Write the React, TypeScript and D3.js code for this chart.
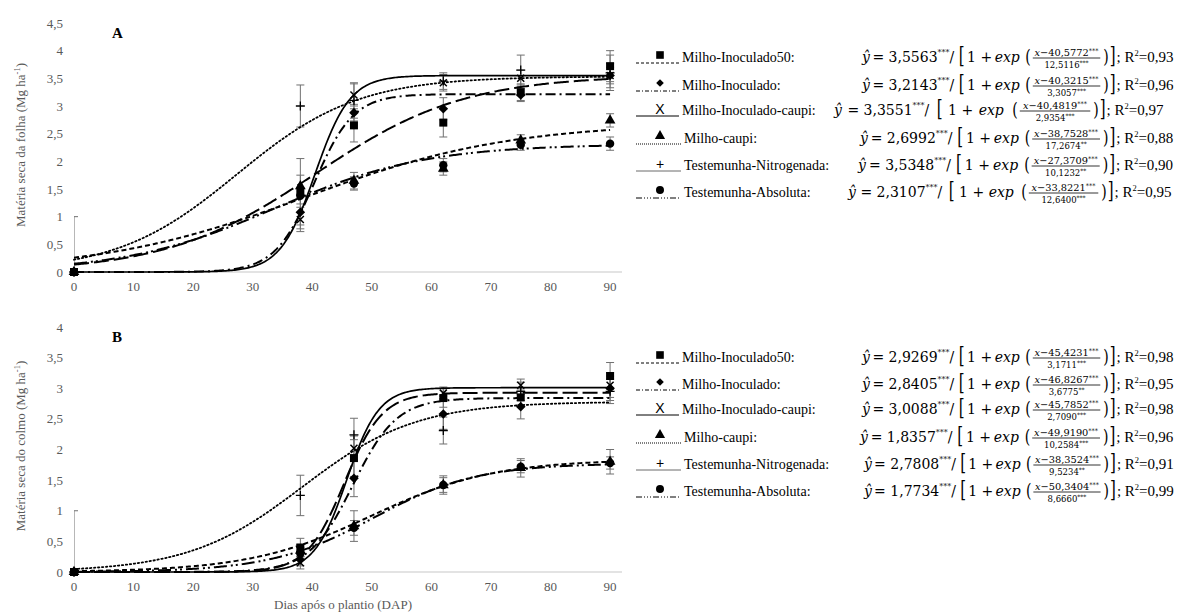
import React, { useEffect, useRef } from "react";
import * as d3 from "d3";

// ---------- DATA ----------
const days = [0, 38, 47, 62, 75, 90];
const seriesNames = [
  "Milho-Inoculado50",
  "Milho-Inoculado",
  "Milho-Inoculado-caupi",
  "Milho-caupi",
  "Testemunha-Nitrogenada",
  "Testemunha-Absoluta",
];
const markerTypes = ["square", "diamond", "x", "triangle", "plus", "circle"];

// Panel A – Matéria seca da folha (observed means and error half-widths)
const folhaMeans = [
  [0, 1.45, 2.65, 2.7, 3.25, 3.72],
  [0, 1.08, 2.88, 2.95, 3.2, 3.55],
  [0, 0.95, 3.2, 3.42, 3.5, 3.55],
  [0, 1.55, 1.65, 1.87, 2.38, 2.74],
  [0, 3.0, 3.1, 3.45, 3.65, 3.6],
  [0, 1.38, 1.6, 1.93, 2.3, 2.32],
];
const folhaErrors = [
  [0, 0.6, 0.3, 0.26, 0.15, 0.28],
  [0, 0.3, 0.15, 0.2, 0.12, 0.15],
  [0, 0.22, 0.2, 0.15, 0.15, 0.22],
  [0, 0.2, 0.15, 0.12, 0.1, 0.12],
  [1.0, 0.38, 0.32, 0.15, 0.27, 0.32],
  [0, 0.15, 0.12, 0.12, 0.1, 0.12],
];
// drawn logistic curves: [asymptote, inflection, scale]
const folhaCurves = [
  [3.5563, 40.5772, 12.5116],
  [3.2143, 40.3215, 3.3057],
  [3.55, 40.4819, 2.9354],
  [2.6992, 38.7528, 17.2674],
  [3.5348, 27.3709, 10.1232],
  [2.3107, 33.8221, 12.64],
];
const folhaEqA = ["3,5563", "3,2143", "3,3551", "2,6992", "3,5348", "2,3107"];
const folhaEqAStars = ["***", "***", "***", "***", "***", "***"];
const folhaEqNum = ["40,5772", "40,3215", "40,4819", "38,7528", "27,3709", "33,8221"];
const folhaEqDen = ["12,5116***", "3,3057***", "2,9354***", "17,2674**", "10,1232**", "12,6400***"];
const folhaR2 = ["0,93", "0,96", "0,97", "0,88", "0,90", "0,95"];

// Panel B – Matéria seca do colmo
const colmoMeans = [
  [0, 0.4, 1.86, 2.84, 2.85, 3.2],
  [0, 0.2, 1.53, 2.58, 2.7, 3.0],
  [0, 0.15, 2.02, 2.92, 3.05, 3.05],
  [0, 0.35, 0.75, 1.42, 1.7, 1.8],
  [0, 1.25, 2.24, 2.31, 2.95, 2.95],
  [0, 0.3, 0.72, 1.42, 1.72, 1.78],
];
const colmoErrors = [
  [0, 0.15, 0.3, 0.15, 0.12, 0.22],
  [0, 0.1, 0.3, 0.25, 0.2, 0.2],
  [0, 0.1, 0.2, 0.1, 0.1, 0.2],
  [0, 0.1, 0.25, 0.15, 0.15, 0.2],
  [1.0, 0.33, 0.27, 0.22, 0.15, 0.2],
  [0, 0.1, 0.12, 0.12, 0.1, 0.1],
];
const colmoCurves = [
  [2.9269, 45.4231, 3.1711],
  [2.8405, 46.8267, 3.6775],
  [3.0088, 45.7852, 2.709],
  [1.8357, 49.919, 10.2584],
  [2.7808, 38.3524, 9.5234],
  [1.7734, 50.3404, 8.666],
];
const colmoEqA = ["2,9269", "2,8405", "3,0088", "1,8357", "2,7808", "1,7734"];
const colmoEqAStars = ["***", " ***", "***", "***", "***", "***"];
const colmoEqNum = ["45,4231", "46,8267", "45,7852", "49,9190", "38,3524", "50,3404"];
const colmoEqDen = ["3,1711***", "3,6775**", "2,7090***", "10,2584***", "9,5234**", "8,6660***"];
const colmoR2 = ["0,98", "0,95", "0,98", "0,96", "0,91", "0,99"];

const xTicks = [0, 10, 20, 30, 40, 50, 60, 70, 80, 90];
const folhaYTicks = [0, 0.5, 1, 1.5, 2, 2.5, 3, 3.5, 4, 4.5];
const colmoYTicks = [0, 0.5, 1, 1.5, 2, 2.5, 3, 3.5, 4];

// ---------- STYLES ----------
const curveDash = ["15,5", "10,4,2,4", null, "5,3", "1.4,2.6", "13,4,2,3,2,4"];
const curveWidth = [2, 2, 1.7, 2, 1.8, 2];
const legendDash = ["3,2", "4,2,1,2", null, "1,1", null, "6,2,1,2,1,2,1,2"];
const SERIF = "'Liberation Serif', 'Times New Roman', serif";
const MATH = "'DejaVu Serif', serif";
const GRAY = "#595959";

function drawMarker(g: any, type: string, x: number, y: number, s = 1) {
  if (type === "square") {
    g.append("rect").attr("x", x - 4 * s).attr("y", y - 4 * s).attr("width", 8 * s).attr("height", 8 * s).attr("fill", "#000");
  } else if (type === "diamond") {
    const r = 4.8 * s;
    g.append("path").attr("d", `M${x},${y - r}L${x + r},${y}L${x},${y + r}L${x - r},${y}Z`).attr("fill", "#000");
  } else if (type === "triangle") {
    g.append("path").attr("d", d3.symbol(d3.symbolTriangle, 50 * s * s)()).attr("transform", `translate(${x},${y})`).attr("fill", "#000");
  } else if (type === "circle") {
    g.append("circle").attr("cx", x).attr("cy", y).attr("r", 4.2 * s).attr("fill", "#000");
  } else if (type === "x") {
    const r = 3.5 * s;
    g.append("path").attr("d", `M${x - r},${y - r}L${x + r},${y + r}M${x - r},${y + r}L${x + r},${y - r}`).attr("stroke", "#000").attr("stroke-width", 1.5);
  } else if (type === "plus") {
    const r = 4.5 * s;
    g.append("path").attr("d", `M${x - r},${y}L${x + r},${y}M${x},${y - r}L${x},${y + r}`).attr("stroke", "#000").attr("stroke-width", 1.3);
  }
}

function drawPanel(svg: any, cfg: any) {
  const { id, yMax, yTop, yBottom, yTicks, means, errors, curves, label, yTitle, titleCenter } = cfg;
  const x = d3.scaleLinear().domain([0, 92]).range([74, 622]);
  const y = d3.scaleLinear().domain([0, yMax]).range([yBottom, yTop]);
  const g = svg.append("g");

  svg.append("defs").append("clipPath").attr("id", `clip-${id}`)
    .append("rect").attr("x", x(0)).attr("y", y(yMax) - 10).attr("width", x(92) - x(0) + 10).attr("height", y(0) - y(yMax) + 10);

  g.selectAll(".yt").data(yTicks).enter().append("text")
    .attr("x", 63).attr("y", (d: number) => y(d) + 4.5)
    .attr("text-anchor", "end").attr("font-family", SERIF).attr("font-size", 13).attr("fill", GRAY)
    .text((d: number) => String(d).replace(".", ","));
  g.selectAll(".xt").data(xTicks).enter().append("text")
    .attr("x", (d: number) => x(d)).attr("y", y(0) + 19)
    .attr("text-anchor", "middle").attr("font-family", SERIF).attr("font-size", 13).attr("fill", GRAY)
    .text((d: number) => String(d));
  g.append("line").attr("x1", 71).attr("x2", 622).attr("y1", y(0)).attr("y2", y(0)).attr("stroke", "#c8c8c8").attr("stroke-width", 1.2);

  const yt = g.append("text").attr("transform", `translate(25,${titleCenter}) rotate(-90)`)
    .attr("text-anchor", "middle").attr("font-family", SERIF).attr("font-size", 13).attr("fill", GRAY);
  yt.append("tspan").text(yTitle + " (Mg ha");
  yt.append("tspan").attr("dy", -5).attr("font-size", 8.5).text("-1");
  yt.append("tspan").attr("dy", 5).text(")");

  g.append("text").attr("x", 112).attr("y", y(yMax) + 15).attr("font-family", SERIF).attr("font-weight", "bold").attr("font-size", 15).attr("fill", "#000").text(label);

  const eb = g.append("g").attr("clip-path", `url(#clip-${id})`).attr("stroke", "#707070").attr("stroke-width", 1);
  means.forEach((row: number[], si: number) => {
    row.forEach((v: number, i: number) => {
      const e = errors[si][i];
      if (!e) return;
      const cx = x(days[i]);
      eb.append("line").attr("x1", cx).attr("x2", cx).attr("y1", y(v - e)).attr("y2", y(v + e));
      eb.append("line").attr("x1", cx - 4).attr("x2", cx + 4).attr("y1", y(v - e)).attr("y2", y(v - e));
      eb.append("line").attr("x1", cx - 4).attr("x2", cx + 4).attr("y1", y(v + e)).attr("y2", y(v + e));
    });
  });

  const xs = d3.range(0, 90.01, 0.25);
  curves.forEach((p: number[], si: number) => {
    const line = d3.line<number>().x((d) => x(d)).y((d) => y(p[0] / (1 + Math.exp(-(d - p[1]) / p[2]))));
    g.append("path").attr("d", line(xs)).attr("fill", "none").attr("stroke", "#000")
      .attr("stroke-width", curveWidth[si]).attr("stroke-dasharray", curveDash[si]).attr("stroke-linecap", si === 4 ? "round" : "butt");
  });

  means.forEach((row: number[], si: number) => {
    row.forEach((v: number, i: number) => drawMarker(g, markerTypes[si], x(days[i]), y(v)));
  });
}

function layoutEquation(parent: any, x0: number, by: number, i: number, cfg: any, gap: number) {
  const { eqA, eqAStars, eqNum, eqDen, r2 } = cfg;
  const g = parent.append("g");
  let cx = x0;
  const add = (txt: string, opt: any = {}) => {
    const t = g.append("text").attr("x", cx).attr("y", by + (opt.dy || 0))
      .attr("font-family", opt.family || MATH).attr("font-size", opt.size || 14).attr("fill", "#000")
      .attr("font-style", opt.italic ? "italic" : null).text(txt);
    if (opt.sy) t.attr("transform", `translate(0,${by}) scale(1,${opt.sy}) translate(0,${-by})`);
    const w = (t.node() as SVGTextElement).getComputedTextLength();
    cx += w + (opt.after || 0) + (opt.gap ? gap : 0);
    return t;
  };
  add("ŷ", { italic: true, after: 1, gap: true });
  add("= " + eqA[i]);
  add(eqAStars[i], { size: 8, dy: -7 });
  add("/", { after: 3, gap: true });
  add("[", { size: 15, sy: 1.45, dy: 1, after: 1, gap: true });
  add("1 + ", { after: 1, gap: true });
  add("exp", { italic: true, after: 4, gap: true });
  add("(", { size: 14, sy: 1.35, dy: 1, after: 2 });
  const numG = g.append("text").attr("x", cx).attr("y", by - 6).attr("font-family", MATH).attr("font-size", 9.8).attr("fill", "#000");
  numG.append("tspan").attr("font-style", "italic").text("x");
  numG.append("tspan").text("−" + eqNum[i]);
  numG.append("tspan").attr("font-size", 6.5).attr("dy", -3).text("***");
  const nw = (numG.node() as SVGTextElement).getComputedTextLength();
  const den = g.append("text").attr("x", cx).attr("y", by + 5.5).attr("font-family", MATH).attr("font-size", 8.5).attr("fill", "#000");
  const dm = eqDen[i].match(/^([\d,]+)(\**)$/) || ["", eqDen[i], ""];
  den.append("tspan").text(dm[1]);
  den.append("tspan").attr("font-size", 6).attr("dy", -3).text(dm[2]);
  const dw = (den.node() as SVGTextElement).getComputedTextLength();
  const fw = Math.max(nw, dw) + 2 + gap;
  den.attr("x", cx + (fw - dw) / 2);
  numG.attr("x", cx + (fw - nw) / 2);
  g.append("line").attr("x1", cx).attr("x2", cx + fw).attr("y1", by - 4).attr("y2", by - 4).attr("stroke", "#000").attr("stroke-width", 0.8);
  cx += fw + 3;
  add(")", { size: 14, sy: 1.35, dy: 1, after: 1 });
  add("]", { size: 15, sy: 1.45, dy: 1, after: 1 });
  const r = g.append("text").attr("x", cx).attr("y", by).attr("font-family", SERIF).attr("font-size", 15).attr("fill", "#000");
  r.append("tspan").text("; R");
  r.append("tspan").attr("font-size", 8.5).attr("dy", -6).text("2");
  r.append("tspan").attr("dy", 6).text("=" + r2[i]);
  const end = cx + (r.node() as SVGTextElement).getComputedTextLength();
  return { g, end };
}

function drawLegend(svg: any, cfg: any) {
  const { rowsY, labelX, eqX, eqEnd } = cfg;
  const g = svg.append("g");
  seriesNames.forEach((name, i) => {
    const by = rowsY[i];
    g.append("line").attr("x1", 636).attr("x2", labelX[i] - 3).attr("y1", by + 1).attr("y2", by + 1)
      .attr("stroke", i === 4 ? "#444" : "#000").attr("stroke-width", i === 4 ? 0.8 : 1)
      .attr("stroke-dasharray", legendDash[i]);
    const mx = 660;
    if (markerTypes[i] === "x" || markerTypes[i] === "plus") {
      g.append("text").attr("x", mx).attr("y", by - 1).attr("text-anchor", "middle")
        .attr("font-family", "'Liberation Sans', Arial, sans-serif").attr("font-size", 14).attr("fill", "#000")
        .text(markerTypes[i] === "x" ? "X" : "+");
    } else {
      drawMarker(g, markerTypes[i], mx, by - 7, markerTypes[i] === "diamond" ? 0.8 : 0.95);
    }
    g.append("text").attr("x", labelX[i]).attr("y", by).attr("font-family", SERIF).attr("font-size", 14).attr("fill", "#000").text(name + ":");

    const first = layoutEquation(g, eqX[i], by, i, cfg, 0);
    const extra = eqEnd[i] - first.end;
    if (extra > 0.5) {
      first.g.remove();
      layoutEquation(g, eqX[i], by, i, cfg, extra / 7);
    }
  });
}

export default function App() {
  const ref = useRef<SVGSVGElement>(null);
  useEffect(() => {
    const svg = d3.select(ref.current);
    svg.selectAll("*").remove();
    svg.append("rect").attr("width", 1188).attr("height", 616).attr("fill", "#fff");
    drawPanel(svg, {
      id: "A", yMax: 4.5, yTop: 23, yBottom: 272, yTicks: folhaYTicks,
      means: folhaMeans, errors: folhaErrors, curves: folhaCurves,
      label: "A", yTitle: "Matéria seca da folha", titleCenter: 145,
    });
    drawPanel(svg, {
      id: "B", yMax: 4, yTop: 327, yBottom: 572, yTicks: colmoYTicks,
      means: colmoMeans, errors: colmoErrors, curves: colmoCurves,
      label: "B", yTitle: "Matéria seca do colmo", titleCenter: 446,
    });
    svg.append("text").attr("x", 343).attr("y", 609).attr("text-anchor", "middle")
      .attr("font-family", SERIF).attr("font-size", 13).attr("fill", GRAY).text("Dias após o plantio (DAP)");
    drawLegend(svg, {
      rowsY: [62, 90, 115, 143, 170, 197],
      labelX: [682, 682, 682, 684, 684, 684],
      eqX: [862, 862, 834, 860, 858, 848],
      eqEnd: [1175, 1175, 1168, 1175, 1175, 1175],
      eqA: folhaEqA, eqAStars: folhaEqAStars, eqNum: folhaEqNum, eqDen: folhaEqDen, r2: folhaR2,
    });
    drawLegend(svg, {
      rowsY: [362, 389, 414, 442, 469, 496],
      labelX: [682, 682, 682, 684, 684, 684],
      eqX: [862, 862, 862, 860, 864, 864],
      eqEnd: [1175, 1175, 1175, 1175, 1175, 1175],
      eqA: colmoEqA, eqAStars: colmoEqAStars, eqNum: colmoEqNum, eqDen: colmoEqDen, r2: colmoR2,
    });
  }, []);
  return (
    <svg ref={ref} width={1188} height={616} style={{ position: "absolute", left: 0, top: 0, display: "block" }} />
  );
}
